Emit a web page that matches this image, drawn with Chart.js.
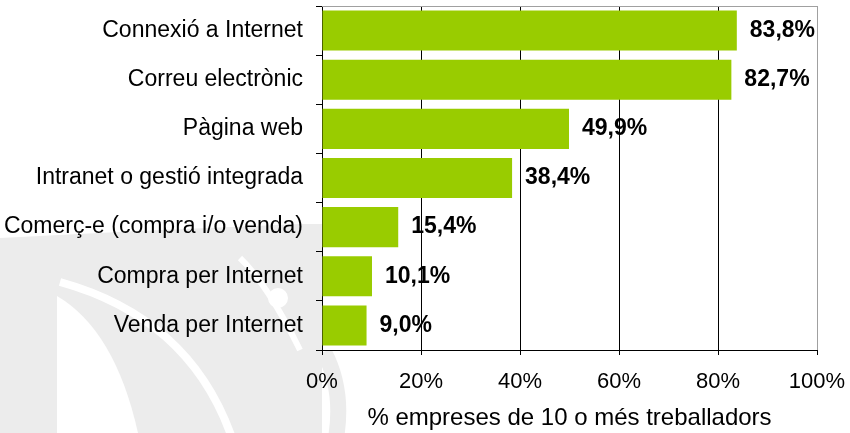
<!DOCTYPE html>
<html>
<head>
<meta charset="utf-8">
<script src="https://cdn.jsdelivr.net/npm/chart.js@4.4.1/dist/chart.umd.min.js"></script>
<style>
  html, body { margin: 0; padding: 0; background: #ffffff; }
  #wrap { width: 850px; height: 433px; position: relative; }
</style>
</head>
<body>
<div id="wrap"><canvas id="c" width="850" height="433"></canvas></div>
<script>
const categories = [
  "Connexió a Internet",
  "Correu electrònic",
  "Pàgina web",
  "Intranet o gestió integrada",
  "Comerç-e (compra i/o venda)",
  "Compra per Internet",
  "Venda per Internet"
];
const values = [83.8, 82.7, 49.9, 38.4, 15.4, 10.1, 9.0];
const xTicks = [0, 20, 40, 60, 80, 100];
const axisTitle = "% empreses de 10 o més treballadors";

const FONT = "'Liberation Sans', Arial, Helvetica, sans-serif";
const GRAY = '#ececec';

const backgroundPlugin = {
  id: 'bgwatermark',
  beforeDraw(chart) {
    const ctx = chart.ctx;
    const a = chart.chartArea;
    ctx.save();
    ctx.fillStyle = '#ffffff';
    ctx.fillRect(0, 0, chart.width, chart.height);
    // decorative watermark (outside the plot area)
    ctx.fillStyle = GRAY;
    ctx.beginPath();
    ctx.moveTo(0, 238);
    ctx.quadraticCurveTo(150, 230, 300, 224);
    ctx.lineTo(a.left, 224);
    ctx.lineTo(a.left, chart.height);
    ctx.lineTo(0, chart.height);
    ctx.closePath();
    ctx.fill();
    // white wedge
    ctx.fillStyle = '#ffffff';
    ctx.beginPath();
    ctx.moveTo(57, 296);
    ctx.quadraticCurveTo(115, 330, 138, chart.height);
    ctx.lineTo(57, chart.height);
    ctx.closePath();
    ctx.fill();
    // thin white curves
    ctx.strokeStyle = '#ffffff';
    ctx.lineWidth = 8;
    ctx.beginPath();
    ctx.moveTo(60, 282);
    ctx.quadraticCurveTo(190, 318, 232, chart.height + 5);
    ctx.stroke();
    ctx.lineWidth = 6;
    ctx.beginPath();
    ctx.moveTo(240, 258);
    ctx.quadraticCurveTo(268, 285, 300, 350);
    ctx.stroke();
    ctx.beginPath();
    ctx.arc(278, 298, 10, 0, Math.PI * 2);
    ctx.fillStyle = '#ffffff';
    ctx.fill();
    // gray stripe below the plot
    ctx.strokeStyle = GRAY;
    ctx.lineWidth = 16;
    ctx.beginPath();
    ctx.moveTo(a.left + 2, a.bottom + 2);
    ctx.quadraticCurveTo(a.left + 22, a.bottom + 40, a.left + 14, chart.height + 5);
    ctx.stroke();
    // plot area white
    ctx.fillStyle = '#ffffff';
    ctx.fillRect(a.left, a.top, a.right - a.left, a.bottom - a.top);
    ctx.restore();
  },
  afterDraw(chart) {
    const ctx = chart.ctx;
    const a = chart.chartArea;
    ctx.save();
    ctx.strokeStyle = '#a0a0a0';
    ctx.lineWidth = 1;
    ctx.beginPath();
    ctx.moveTo(a.left, a.top + 0.5);
    ctx.lineTo(a.right, a.top + 0.5);
    ctx.stroke();
    ctx.restore();
  }
};

const labelPlugin = {
  id: 'valuelabels',
  afterDatasetsDraw(chart) {
    const ctx = chart.ctx;
    const meta = chart.getDatasetMeta(0);
    ctx.save();
    ctx.font = "bold 23px " + FONT;
    ctx.fillStyle = '#000000';
    ctx.textAlign = 'left';
    ctx.textBaseline = 'middle';
    meta.data.forEach((bar, i) => {
      const txt = values[i].toFixed(1).replace('.', ',') + '%';
      ctx.fillText(txt, bar.x + 13, bar.y);
    });
    ctx.restore();
  }
};

new Chart(document.getElementById('c'), {
  type: 'bar',
  data: {
    labels: categories,
    datasets: [{
      data: values,
      backgroundColor: '#99cc00',
      borderWidth: 0,
      barPercentage: 0.815,
      categoryPercentage: 1.0
    }]
  },
  options: {
    indexAxis: 'y',
    responsive: false,
    animation: false,
    events: [],
    layout: { padding: { top: 6, right: 33, left: 0, bottom: 0 } },
    plugins: {
      legend: { display: false },
      tooltip: { enabled: false }
    },
    scales: {
      y: {
        type: 'category',
        afterFit(scale) {
          scale.width = 322;
          scale.paddingTop = 0;
          scale.paddingBottom = 0;
        },
        grid: {
          offset: true,
          drawOnChartArea: false,
          tickLength: 6,
          color: '#000000',
          lineWidth: 1
        },
        border: { color: '#000000', width: 1 },
        ticks: {
          color: '#000000',
          padding: 13,
          font: { family: FONT, size: 23 }
        }
      },
      x: {
        min: 0,
        max: 100,
        afterFit(scale) {
          scale.height = 83;
          scale.paddingLeft = 0;
          scale.paddingRight = 0;
        },
        afterBuildTicks(scale) { scale.ticks = xTicks.map(v => ({ value: v })); },
        grid: {
          color: (c) => (c.tick && c.tick.value === 100) ? '#a0a0a0' : '#000000',
          tickColor: '#000000',
          tickLength: 5,
          lineWidth: 1
        },
        border: { color: '#000000', width: 1 },
        ticks: {
          color: '#000000',
          padding: 14,
          maxRotation: 0,
          font: { family: FONT, size: 22 },
          callback: (v) => v + '%'
        },
        title: {
          display: true,
          text: axisTitle,
          color: '#000000',
          font: { family: FONT, size: 24 },
          padding: { top: 4, bottom: 0 }
        }
      }
    }
  },
  plugins: [backgroundPlugin, labelPlugin]
});
</script>
</body>
</html>
